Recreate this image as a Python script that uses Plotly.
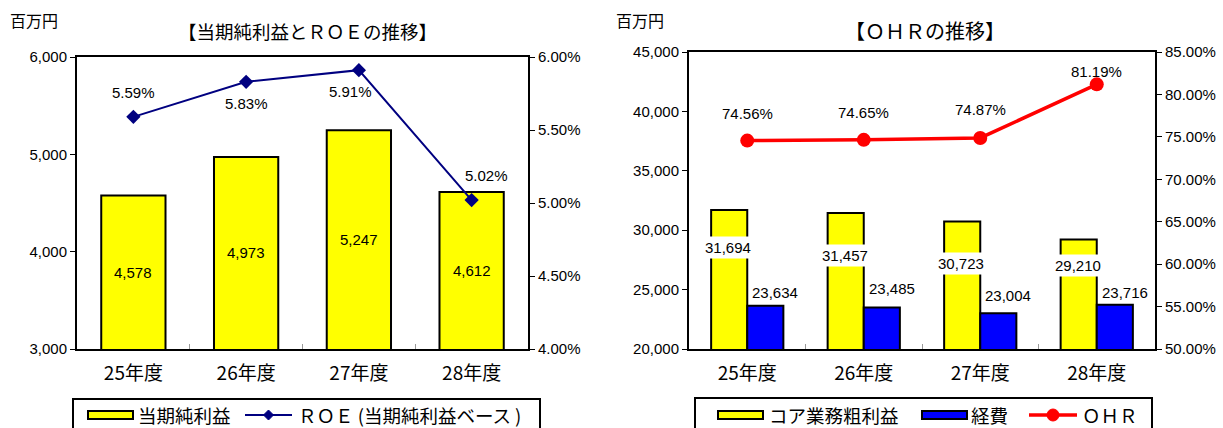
import plotly.graph_objects as go
from plotly.subplots import make_subplots

# ---- data ----
years = ["25年度", "26年度", "27年度", "28年度"]
net_income = [4578, 4973, 5247, 4612]
roe = [5.59, 5.83, 5.91, 5.02]
core_profit = [31694, 31457, 30723, 29210]
expenses = [23634, 23485, 23004, 23716]
ohr = [74.56, 74.65, 74.87, 81.19]

name_ni = "当期純利益"
name_roe = "ＲＯＥ (当期純利益ベース )"
name_cp = "コア業務粗利益"
name_ex = "経費"
name_ohr = "ＯＨＲ"

Y1_MIN, Y1_MAX = 3000, 6000

FONT = "Liberation Sans, Noto Sans CJK JP, sans-serif"
JFONT = "Noto Sans CJK JP, Liberation Sans, sans-serif"
W, H = 1223, 428
YELLOW, BLUE, NAVY, RED = "#FFFF00", "#0000FF", "#000080", "#FF0000"

fig = make_subplots(rows=1, cols=2, specs=[[{"secondary_y": True}, {"secondary_y": True}]])

# ---- left chart ----
fig.add_trace(go.Bar(x=years, y=net_income, name=name_ni, width=0.57,
                     marker=dict(color=YELLOW, line=dict(color="black", width=2))),
              row=1, col=1, secondary_y=False)
fig.add_trace(go.Scatter(x=years, y=roe, name=name_roe, mode="lines+markers",
                         line=dict(color=NAVY, width=2),
                         marker=dict(symbol="diamond", size=11, color=NAVY)),
              row=1, col=1, secondary_y=True)

# ---- right chart ----
fig.add_trace(go.Bar(x=years, y=core_profit, name=name_cp, width=0.31, offset=-0.31,
                     marker=dict(color=YELLOW, line=dict(color="black", width=2))),
              row=1, col=2, secondary_y=False)
fig.add_trace(go.Bar(x=years, y=expenses, name=name_ex, width=0.31, offset=0.0,
                     marker=dict(color=BLUE, line=dict(color="black", width=2))),
              row=1, col=2, secondary_y=False)
fig.add_trace(go.Scatter(x=years, y=ohr, name=name_ohr, mode="lines+markers",
                         line=dict(color=RED, width=3.5),
                         marker=dict(symbol="circle", size=14, color=RED)),
              row=1, col=2, secondary_y=True)

fig.update_layout(barmode="group", showlegend=False)

LBL = dict(family=FONT, size=15, color="black")

# net income labels, centred in the visible part of each bar
for c, v in zip(years, net_income):
    fig.add_annotation(x=c, y=(v + Y1_MIN) / 2, xref="x", yref="y", text=f"{v:,}",
                       showarrow=False, font=LBL)
# ROE labels
roe_shift = [(0, 24), (0, -22), (-8, -21), (15, 25)]
for c, v, (dx, dy) in zip(years, roe, roe_shift):
    fig.add_annotation(x=c, y=v, xref="x", yref="y2", text=f"{v:.2f}%", showarrow=False,
                       xshift=dx, yshift=dy, font=LBL)
# OHR labels
ohr_shift = [(0, 27), (0, 27), (0, 28), (0, 13)]
for c, v, (dx, dy) in zip(years, ohr, ohr_shift):
    fig.add_annotation(x=c, y=v, xref="x2", yref="y4", text=f"{v:.2f}%", showarrow=False,
                       xshift=dx, yshift=dy, font=LBL)
# core profit labels (white box)
cp_shift = [-37, -43, -42, -26]
for c, v, dy in zip(years, core_profit, cp_shift):
    fig.add_annotation(x=c, y=v, xref="x2", yref="y3", text=f"{v:,}", showarrow=False,
                       xshift=-19, yshift=dy, bgcolor="white", borderpad=2, font=LBL)
# expense labels
ex_shift = [13, 19, 18, 12]
for c, v, dy in zip(years, expenses, ex_shift):
    fig.add_annotation(x=c, y=v, xref="x2", yref="y3", text=f"{v:,}", showarrow=False,
                       xshift=28, yshift=dy, font=LBL)


# ---- pixel helpers (paper coords, margins are zero) ----
def px(x):
    return x / W


def py(y):
    return 1 - y / H


def px_note(x, y, text, size, anchor="center"):
    fig.add_annotation(x=px(x), y=py(y), xref="paper", yref="paper", text=text,
                       xanchor=anchor, yanchor="middle", showarrow=False, borderpad=0,
                       font=dict(family=JFONT, size=size, color="black"))


def px_rect(x0, y0, x1, y1, fill, lw=2):
    fig.add_shape(type="rect", xref="paper", yref="paper", x0=px(x0), x1=px(x1),
                  y0=py(y1), y1=py(y0), fillcolor=fill, line=dict(color="black", width=lw),
                  layer="above")


def px_line(x0, x1, y, color, lw):
    fig.add_shape(type="line", xref="paper", yref="paper", x0=px(x0), x1=px(x1),
                  y0=py(y), y1=py(y), line=dict(color=color, width=lw), layer="above")


# titles and units
px_note(307, 31, "【当期純利益とＲＯＥの推移】", 18.5)
px_note(925, 31, "【ＯＨＲの推移】", 20)
px_note(34, 20, "百万円", 16)
px_note(640, 20, "百万円", 16)

# ---- legends (drawn as boxes) ----
LEG = 18.5
LY = 415
# left legend
px_rect(73, 399, 540, 440, "white")
px_rect(88, 411, 133, 419, YELLOW)
px_note(137, LY, name_ni, LEG, "left")
px_line(245, 292, LY, NAVY, 2)
fig.add_shape(type="path", xref="paper", yref="paper", layer="above",
              path=f"M{px(268.5)},{py(LY - 5)} L{px(273.5)},{py(LY)} L{px(268.5)},{py(LY + 5)} "
                   f"L{px(263.5)},{py(LY)} Z",
              fillcolor=NAVY, line=dict(color=NAVY, width=1))
px_note(297, LY, name_roe, LEG, "left")
# right legend
px_rect(695, 398, 1152, 440, "white")
px_rect(718, 411, 763, 419, YELLOW)
px_note(768, LY, name_cp, LEG, "left")
px_rect(922, 411, 967, 419, BLUE)
px_note(970, LY, name_ex, LEG, "left")
px_line(1029, 1077, LY, RED, 3.5)
fig.add_shape(type="circle", xref="paper", yref="paper", layer="above",
              x0=px(1047), x1=px(1059), y0=py(LY + 6), y1=py(LY - 6),
              fillcolor=RED, line=dict(color=RED, width=1))
px_note(1081, LY, name_ohr, LEG, "left")

axis_common = dict(showline=True, linecolor="black", linewidth=2, showgrid=False, zeroline=False,
                   ticks="outside", ticklen=5, tickcolor="black",
                   tickfont=dict(family=FONT, size=15, color="black"))
xaxis_common = dict(showline=True, linecolor="black", linewidth=2, mirror=True, showgrid=False,
                    ticks="inside", tickson="boundaries", ticklen=5, tickcolor="#999999",
                    ticklabelstandoff=6,
                    tickfont=dict(family=JFONT, size=19, color="black"))

fig.update_layout(
    width=W, height=H, margin=dict(l=0, r=0, t=0, b=0, autoexpand=False),
    paper_bgcolor="white", plot_bgcolor="white",
    xaxis=dict(domain=[77 / W, 528 / W], **xaxis_common),
    xaxis2=dict(domain=[689 / W, 1155 / W], **xaxis_common),
    yaxis=dict(domain=[1 - 349 / H, 1 - 57 / H], range=[Y1_MIN, Y1_MAX], dtick=1000,
               tickformat=",", **axis_common),
    yaxis2=dict(range=[4, 6], dtick=0.5, tickformat=".2f", ticksuffix="%", **axis_common),
    yaxis3=dict(domain=[1 - 349 / H, 1 - 52 / H], range=[20000, 45000], dtick=5000,
                tickformat=",", **axis_common),
    yaxis4=dict(range=[50, 85], dtick=5, tickformat=".2f", ticksuffix="%", **axis_common),
)

fig.write_html("out.html")
